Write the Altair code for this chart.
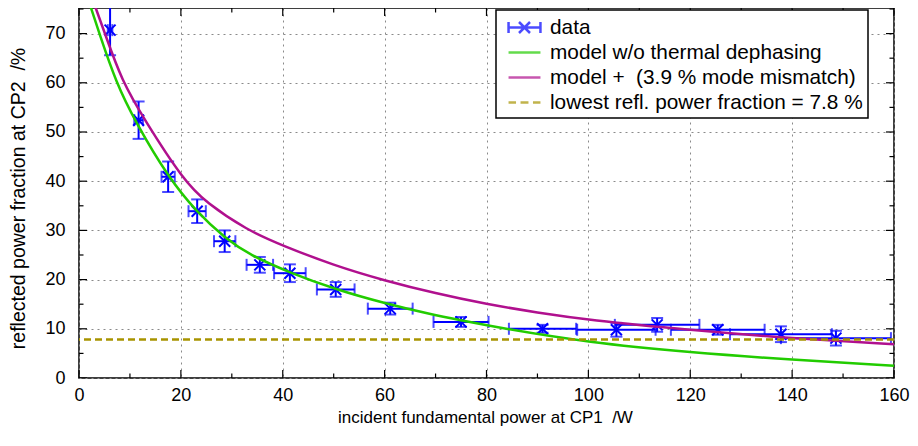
import altair as alt
import pandas as pd

# ---- data ----
x_data = [6.1, 11.7, 17.5, 23.2, 28.6, 35.5, 41.4, 50.4, 61.1, 75.0, 91.0, 105.5, 113.5, 125.4, 137.8, 148.6]
y_data = [70.7, 52.4, 40.9, 33.9, 27.8, 23.0, 21.3, 18.0, 14.1, 11.4, 10.0, 9.8, 10.8, 9.8, 8.9, 8.1]
x_err = [0.45, 0.85, 1.3, 1.7, 2.1, 2.6, 3.1, 3.7, 4.4, 5.4, 6.6, 7.7, 8.3, 9.2, 10.0, 10.8]
y_err = [5.1, 3.8, 3.1, 2.4, 2.2, 1.6, 1.8, 1.5, 1.2, 1.0, 0.8, 1.4, 1.4, 1.0, 1.6, 1.5]

green_x = [2.1, 4.0, 7.3, 11.0, 17.5, 23.2, 28.6, 33.5, 41.4, 50.4, 60.0, 68.8, 75.0, 82.5, 100.0, 120.0, 140.0, 160.0]
green_y = [76.0, 70.0, 60.0, 52.2, 40.8, 33.6, 28.5, 25.0, 21.4, 18.0, 15.2, 13.0, 11.7, 10.2, 7.2, 5.2, 3.7, 2.5]

mag_x = [3.0, 5.1, 8.4, 12.9, 20.5, 25.0, 32.9, 40.0, 50.0, 60.0, 70.0, 80.0, 90.0, 100.0, 120.0, 140.0, 160.0]
mag_y = [76.0, 70.0, 60.4, 52.4, 40.2, 35.6, 30.1, 26.9, 22.9, 19.8, 17.2, 15.0, 13.3, 11.8, 9.75, 8.06, 6.85]

lowest = 7.8

labels = ["data", "model w/o thermal dephasing", "model +\u00a0 (3.9 % mode mismatch)",
          "lowest refl. power fraction = 7.8 %"]
colors = ["#0000ff", "#22cc00", "#b0108e", "#a89400"]

x_ticks = [0, 20, 40, 60, 80, 100, 120, 140, 160]
x_minor = [10, 30, 50, 70, 90, 110, 130, 150]
y_ticks = [0, 10, 20, 30, 40, 50, 60, 70]
y_minor = [5, 15, 25, 35, 45, 55, 65, 75]

W, H = 815, 370
FONT = "Liberation Sans"

df = pd.DataFrame({"x": x_data, "y": y_data, "xe": x_err, "ye": y_err})
df["xlo"] = df["x"] - df["xe"]
df["xhi"] = df["x"] + df["xe"]
df["ylo"] = df["y"] - df["ye"]
df["yhi"] = df["y"] + df["ye"]

xs = alt.Scale(domain=[0, 160], nice=False, zero=False)
ys = alt.Scale(domain=[0, 75.2], nice=False, zero=False)

x_axis = alt.Axis(values=x_ticks, ticks=False, domain=False, grid=True, labelFontSize=18,
                  labelFlush=False, labelPadding=8,
                  title="incident fundamental power at CP1\u00a0 /W",
                  titleFontSize=17, titleX=406, titleY=44, titleAlign="center",
                  titleBaseline="alphabetic")
y_axis = alt.Axis(values=y_ticks, ticks=False, domain=False, grid=True, labelFontSize=18,
                  labelFlush=False, labelPadding=14,
                  title="reflected power fraction at CP2\u00a0 /%",
                  titleFontSize=19.5, titleX=-55, titleY=190, titleAlign="center",
                  titleBaseline="alphabetic", titleAngle=270)

base = alt.Chart(df)
blue = colors[0]

# invisible anchor layer carrying the axes
axes_layer = base.mark_point(opacity=0).encode(
    x=alt.X("x:Q", scale=xs, axis=x_axis),
    y=alt.Y("y:Q", scale=ys, axis=y_axis),
)

xbar = base.mark_rule(color=blue, strokeWidth=2, clip=True).encode(
    x=alt.X("xlo:Q", scale=xs), x2="xhi:Q", y=alt.Y("y:Q", scale=ys))
ybar = base.mark_rule(color=blue, strokeWidth=2, clip=True).encode(
    x=alt.X("x:Q", scale=xs), y=alt.Y("ylo:Q", scale=ys), y2="yhi:Q")
cap_xlo = base.mark_tick(color=blue, orient="vertical", size=12, thickness=2, clip=True).encode(
    x=alt.X("xlo:Q", scale=xs), y=alt.Y("y:Q", scale=ys))
cap_xhi = base.mark_tick(color=blue, orient="vertical", size=12, thickness=2, clip=True).encode(
    x=alt.X("xhi:Q", scale=xs), y=alt.Y("y:Q", scale=ys))
cap_ylo = base.mark_tick(color=blue, orient="horizontal", size=12, thickness=2, clip=True).encode(
    x=alt.X("x:Q", scale=xs), y=alt.Y("ylo:Q", scale=ys))
cap_yhi = base.mark_tick(color=blue, orient="horizontal", size=12, thickness=2, clip=True).encode(
    x=alt.X("x:Q", scale=xs), y=alt.Y("yhi:Q", scale=ys))
marks = base.mark_point(shape="M-1,-1L1,1M-1,1L1,-1", size=121, strokeWidth=2, color=blue,
                        filled=False, opacity=1, clip=True).encode(
    x=alt.X("x:Q", scale=xs), y=alt.Y("y:Q", scale=ys))

green = alt.Chart(pd.DataFrame({"x": green_x, "y": green_y})).mark_line(
    color=colors[1], strokeWidth=2.5, interpolate="basis", clip=True).encode(
    x=alt.X("x:Q", scale=xs), y=alt.Y("y:Q", scale=ys))
magenta = alt.Chart(pd.DataFrame({"x": mag_x, "y": mag_y})).mark_line(
    color=colors[2], strokeWidth=2.5, interpolate="basis", clip=True).encode(
    x=alt.X("x:Q", scale=xs), y=alt.Y("y:Q", scale=ys))
gold = alt.Chart(pd.DataFrame({"y": [lowest]})).mark_rule(
    color=colors[3], strokeWidth=2.5, strokeDash=[7, 4]).encode(
    y=alt.Y("y:Q", scale=ys))

# legend carrier (no visible marks); every symbol shares the same extent
ext = "M-1.45,-0.5M1.45,0.5"
paths = [
    ext + "M-1.45,0H1.45M-1.45,-0.5V0.5M1.45,-0.5V0.5M-0.5,-0.5L0.5,0.5M-0.5,0.5L0.5,-0.5",
    ext + "M-1.45,0H1.45",
    ext + "M-1.45,0H1.45",
    ext + "M-1.45,0H-0.77M-0.36,0H0.36M0.77,0H1.45",
]
leg = alt.Legend(orient="none", legendX=417, legendY=2, title=None, labelFont=FONT,
                 labelFontSize=20.8, labelColor="black", symbolSize=484, symbolStrokeWidth=2.5,
                 symbolOffset=11, labelOffset=13, padding=5, rowPadding=2,
                 strokeColor="black", fillColor="white", labelLimit=600,
                 labelExpr="datum.label + '\u00a0\u00a0'")
legend_layer = alt.Chart(pd.DataFrame({"series": labels})).transform_filter("false").mark_point(
    filled=False, strokeWidth=2.5).encode(
    color=alt.Color("series:N", scale=alt.Scale(domain=labels, range=colors), legend=leg),
    shape=alt.Shape("series:N", scale=alt.Scale(domain=labels, range=paths), legend=leg),
)

# inward tick marks (gnuplot style) on all four sides
def vticks(vals, length):
    d = pd.DataFrame({"v": vals})
    b = alt.Chart(d).mark_rule(color="black", strokeWidth=1.2).encode(
        x=alt.X("v:Q", scale=xs), y=alt.value(H), y2=alt.value(H - length))
    t = alt.Chart(d).mark_rule(color="black", strokeWidth=1.2).encode(
        x=alt.X("v:Q", scale=xs), y=alt.value(0), y2=alt.value(length))
    return [b, t]

def hticks(vals, length):
    d = pd.DataFrame({"v": vals})
    l = alt.Chart(d).mark_rule(color="black", strokeWidth=1.2, clip=True).encode(
        y=alt.Y("v:Q", scale=ys), x=alt.value(0), x2=alt.value(length))
    r = alt.Chart(d).mark_rule(color="black", strokeWidth=1.2, clip=True).encode(
        y=alt.Y("v:Q", scale=ys), x=alt.value(W), x2=alt.value(W - length))
    return [l, r]

tick_layers = vticks(x_ticks, 8) + vticks(x_minor, 4.5) + hticks(y_ticks, 8) + hticks(y_minor, 4.5)

chart = alt.layer(
    axes_layer, xbar, ybar, cap_xlo, cap_xhi, cap_ylo, cap_yhi, marks,
    green, magenta, gold, *tick_layers, legend_layer
).properties(
    width=W, height=H,
    autosize=alt.AutoSizeParams(type="none"),
    padding={"left": 71, "top": 0, "right": 16, "bottom": 60},
    background="white",
).configure_axis(
    labelFont=FONT, titleFont=FONT, labelColor="black", titleColor="black",
    titleFontWeight="normal", gridColor="#8a8a8a", gridDash=[2, 4], gridWidth=1,
).configure_view(
    stroke="black", strokeWidth=1.5,
).configure_legend(
    strokeWidth=1.5,
)

chart.save("out.html", embed_options={"renderer": "svg", "actions": False})
